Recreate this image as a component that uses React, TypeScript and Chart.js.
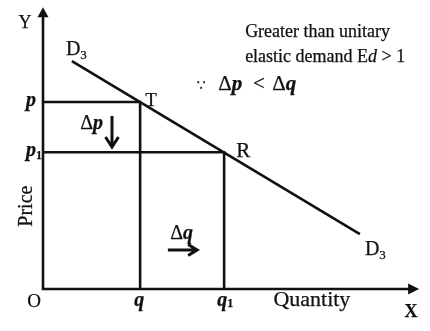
import React, { useEffect, useRef } from 'react';
import { Chart, registerables } from 'chart.js';

Chart.register(...registerables);

// Demand curve D3: quantity / price at its two ends
const demandQ = [0.77, 8.45];
const demandP = [8.17, 1.97];
// Points on the curve (T before, R after the price fall)
const pointNames = ['T', 'R'];
const pointQ = [2.59, 4.83];
const pointP = [6.7, 4.9];
// Axis tick labels
const priceTicks = [['p', ''], ['p', '1']];
const qtyTicks = [['q', ''], ['q', '1']];
const axisEnd = { x: 10.03, y: 10.1 };

const SERIF = "'Liberation Serif', 'Times New Roman', serif";
const INK = '#111111';

type Run = { t: string; font: string; dy?: number; gap?: number };

function put(ctx: CanvasRenderingContext2D, t: string, x: number, y: number) {
  ctx.fillText(t, x, y);
  ctx.lineWidth = 0.25;
  ctx.strokeText(t, x, y);
}

function runs(ctx: CanvasRenderingContext2D, x: number, y: number, list: Run[]) {
  let cx = x;
  ctx.textAlign = 'left';
  ctx.textBaseline = 'alphabetic';
  list.forEach((r) => {
    ctx.font = r.font;
    put(ctx, r.t, cx, y + (r.dy || 0));
    cx += ctx.measureText(r.t).width + (r.gap || 0);
  });
}

const diagramPlugin = {
  id: 'diagram',
  afterDatasetsDraw(chart: any) {
    const ctx: CanvasRenderingContext2D = chart.ctx;
    const xs = chart.scales.x;
    const ys = chart.scales.y;
    const X = (v: number) => xs.getPixelForValue(v);
    const Y = (v: number) => ys.getPixelForValue(v);
    ctx.save();
    ctx.strokeStyle = INK;
    ctx.fillStyle = INK;
    ctx.lineWidth = 2.6;
    ctx.lineCap = 'butt';

    // Axes with arrow heads
    const ox = X(0), oy = Y(0);
    const ty = Y(axisEnd.y), tx = X(axisEnd.x);
    ctx.beginPath();
    ctx.moveTo(ox, oy + 1.2);
    ctx.lineTo(ox, ty + 8);
    ctx.moveTo(ox - 1.2, oy);
    ctx.lineTo(tx - 8, oy);
    ctx.stroke();
    ctx.beginPath();
    ctx.moveTo(ox, ty);
    ctx.lineTo(ox - 5.5, ty + 10);
    ctx.lineTo(ox + 5.5, ty + 10);
    ctx.closePath();
    ctx.fill();
    ctx.beginPath();
    ctx.moveTo(tx, oy);
    ctx.lineTo(tx - 11, oy - 5.5);
    ctx.lineTo(tx - 11, oy + 5.5);
    ctx.closePath();
    ctx.fill();

    // Axis letters
    ctx.textAlign = 'center';
    ctx.textBaseline = 'alphabetic';
    ctx.font = `18px ${SERIF}`;
    put(ctx, 'Y', X(-0.48), Y(9.35));
    ctx.font = `bold 18px ${SERIF}`;
    put(ctx, 'X', X(9.81), Y(-1.0));
    ctx.font = `19px ${SERIF}`;
    put(ctx, 'O', X(-0.24), Y(-0.65));
    ctx.font = `22px ${SERIF}`;
    put(ctx, 'Quantity', X(7.17), Y(-0.6));
    ctx.save();
    ctx.translate(X(-0.43), Y(2.97));
    ctx.rotate(-Math.PI / 2);
    ctx.textBaseline = 'middle';
    ctx.font = `20px ${SERIF}`;
    put(ctx, 'Price', 0, 0);
    ctx.restore();

    // Tick labels p, p1, q, q1
    const bi = `bold italic 20px ${SERIF}`;
    const sub = `bold 12px ${SERIF}`;
    priceTicks.forEach((lab, i) => {
      ctx.font = bi;
      const w = ctx.measureText(lab[0]).width;
      runs(ctx, X(-0.19) - w, Y(pointP[i]) + 4, [
        { t: lab[0], font: bi },
        { t: lab[1], font: sub, dy: 3 },
      ]);
    });
    qtyTicks.forEach((lab, i) => {
      ctx.font = bi;
      const w = ctx.measureText(lab[0]).width;
      runs(ctx, X(pointQ[i]) - w / 2 - (i ? 2 : 1), Y(0) + 17, [
        { t: lab[0], font: bi },
        { t: lab[1], font: sub, dy: 1 },
      ]);
    });

    // Point names
    runs(ctx, X(pointQ[0]) + 5, Y(pointP[0]) + 4, [{ t: pointNames[0], font: `19px ${SERIF}` }]);
    runs(ctx, X(pointQ[1]) + 12, Y(pointP[1]) + 5, [{ t: pointNames[1], font: `21px ${SERIF}` }]);

    // Curve names
    const dFont = `20px ${SERIF}`;
    const dSub = `13px ${SERIF}`;
    runs(ctx, X(demandQ[0]) - 6, Y(demandP[0]) - 6, [
      { t: 'D', font: dFont },
      { t: '3', font: dSub, dy: 4 },
    ]);
    runs(ctx, X(demandQ[1]) + 5, Y(demandP[1]) + 21, [
      { t: 'D', font: dFont },
      { t: '3', font: dSub, dy: 4 },
    ]);

    // Δp with down arrow
    runs(ctx, X(0.99), Y(5.73), [
      { t: 'Δ', font: `20px ${SERIF}` },
      { t: 'p', font: `bold italic 20px ${SERIF}` },
    ]);
    const ax = X(1.84), ay1 = Y(6.2), ay2 = Y(5.09);
    ctx.lineWidth = 3;
    ctx.beginPath();
    ctx.moveTo(ax, ay1);
    ctx.lineTo(ax, ay2 - 2);
    ctx.moveTo(ax - 6.5, ay2 - 10);
    ctx.lineTo(ax, ay2);
    ctx.lineTo(ax + 6.5, ay2 - 10);
    ctx.stroke();

    // Δq with right arrow
    runs(ctx, X(3.39), Y(1.79), [
      { t: 'Δ', font: `20px ${SERIF}` },
      { t: 'q', font: `bold italic 20px ${SERIF}` },
    ]);
    const bx1 = X(3.33), bx2 = X(4.11), by = Y(1.4);
    ctx.lineWidth = 3;
    ctx.beginPath();
    ctx.moveTo(bx1, by);
    ctx.lineTo(bx2 - 2, by);
    ctx.moveTo(bx2 - 9, by - 5.5);
    ctx.lineTo(bx2, by);
    ctx.lineTo(bx2 - 9, by + 5.5);
    ctx.stroke();

    // Explanation text
    const reg = `18px ${SERIF}`;
    const it = `italic 18px ${SERIF}`;
    runs(ctx, X(5.39), Y(9.03), [{ t: 'Greater than unitary', font: reg }]);
    runs(ctx, X(5.39), Y(8.14), [
      { t: 'elastic demand E', font: reg },
      { t: 'd', font: it },
      { t: ' > 1', font: reg },
    ]);
    const mathY = Y(7.13);
    const m = `21px ${SERIF}`;
    const mi = `bold italic 21px ${SERIF}`;
    runs(ctx, X(4.1), mathY, [{ t: '∵', font: `14px 'DejaVu Sans', sans-serif` }]);
    runs(ctx, X(4.67), mathY, [
      { t: 'Δ', font: m },
      { t: 'p', font: mi },
    ]);
    runs(ctx, X(5.6), mathY, [{ t: '<', font: m }]);
    runs(ctx, X(6.11), mathY, [
      { t: 'Δ', font: m },
      { t: 'q', font: mi },
    ]);

    ctx.restore();
  },
};

export default function App() {
  const ref = useRef<HTMLCanvasElement>(null);
  useEffect(() => {
    document.body.style.margin = '0';
    const canvas = ref.current;
    if (!canvas) return;
    const line = (pts: { x: number; y: number }[]) => ({
      data: pts,
      showLine: true,
      borderColor: INK,
      backgroundColor: INK,
      borderWidth: 2.6,
      pointRadius: 0,
      fill: false,
      tension: 0,
    });
    const datasets = [
      line(demandQ.map((q, i) => ({ x: q, y: demandP[i] }))),
      ...pointQ.map((q, i) =>
        line([
          { x: 0, y: pointP[i] },
          { x: q, y: pointP[i] },
          { x: q, y: 0 },
        ])
      ),
    ];
    const chart = new Chart(canvas, {
      type: 'scatter',
      data: { datasets },
      options: {
        animation: false,
        responsive: false,
        devicePixelRatio: 1,
        layout: { padding: { left: 43, right: 12, top: 10, bottom: 42 } },
        plugins: { legend: { display: false }, tooltip: { enabled: false } },
        scales: {
          x: { type: 'linear', min: 0, max: 10, display: false },
          y: { type: 'linear', min: 0, max: 10, display: false },
        },
      },
      plugins: [diagramPlugin],
    });
    let alive = true;
    const fonts = [
      `18px 'Liberation Serif'`,
      `italic 18px 'Liberation Serif'`,
      `bold 18px 'Liberation Serif'`,
      `bold italic 18px 'Liberation Serif'`,
      `14px 'DejaVu Sans'`,
    ];
    if ((document as any).fonts) {
      Promise.all(fonts.map((f) => (document as any).fonts.load(f, 'AΔ∵')))
        .then(() => {
          if (alive) chart.render();
        })
        .catch(() => {});
    }
    return () => {
      alive = false;
      chart.destroy();
    };
  }, []);
  return (
    <div style={{ width: 430, height: 331, background: '#fff' }}>
      <canvas ref={ref} width={430} height={331} style={{ display: 'block', width: 430, height: 331 }} />
    </div>
  );
}
